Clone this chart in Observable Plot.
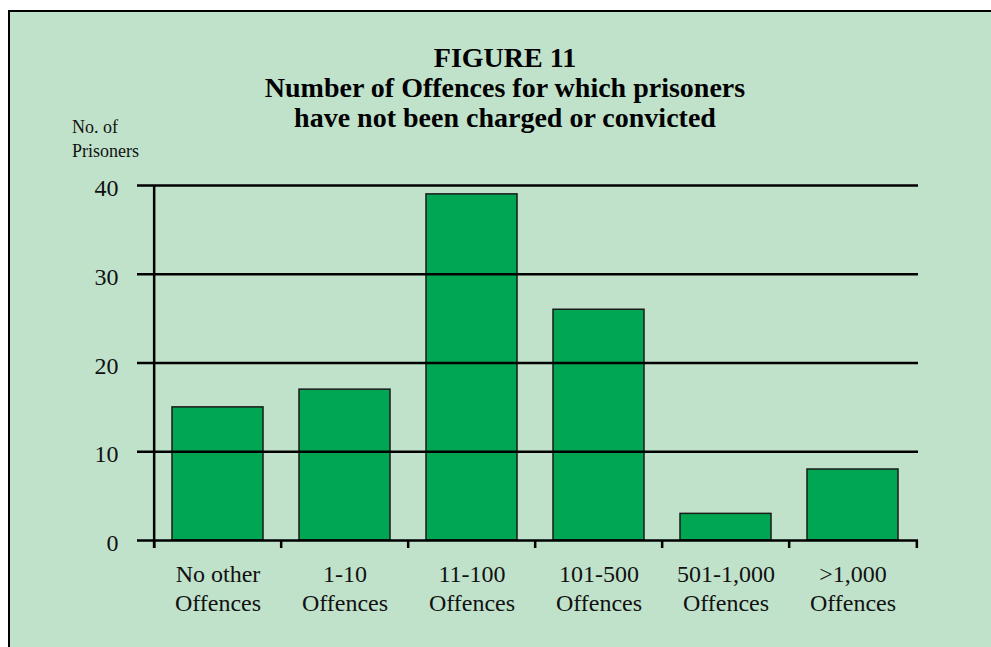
<!DOCTYPE html>
<html>
<head>
<meta charset="utf-8">
<script src="https://cdn.jsdelivr.net/npm/d3@7"></script>
<script src="https://cdn.jsdelivr.net/npm/@observablehq/plot@0.6"></script>
<style>
  html, body { margin: 0; padding: 0; background: #ffffff; }
  #wrap { position: relative; width: 991px; height: 647px; overflow: hidden; background: #ffffff; font-family: "Liberation Serif", serif; }
  #panel { position: absolute; left: 8px; top: 10px; width: 1000px; height: 700px; background: #c0e2cb; border-top: 2px solid #000; border-left: 2px solid #000; }
  #title { position: absolute; left: 255px; width: 500px; top: 43px; text-align: center; font-weight: bold; font-size: 28px; line-height: 30px; color: #000; }
  #ylab { position: absolute; left: 72px; top: 115px; font-size: 18px; line-height: 24px; color: #111; }
  #chart { position: absolute; left: 0; top: 0; }
  #chart svg text { font-family: "Liberation Serif", serif; }
</style>
</head>
<body>
<div id="wrap">
  <div id="panel"></div>
  <div id="title">FIGURE 11<br>Number of Offences for which prisoners<br>have not been charged or convicted</div>
  <div id="ylab">No. of<br>Prisoners</div>
  <div id="chart"></div>
</div>
<script>
const categories = ["No other\nOffences", "1-10\nOffences", "11-100\nOffences", "101-500\nOffences", "501-1,000\nOffences", ">1,000\nOffences"];
const prisoners = [15, 17, 39, 26, 3, 8];
const yTicks = [0, 10, 20, 30, 40];

const data = categories.map((c, i) => ({category: c, value: prisoners[i]}));

const W = 991, H = 647;
const mLeft = 152, mRight = 73, mTop = 185, mBottom = 107;
const step = (W - mLeft - mRight) / categories.length;
const serif = "'Liberation Serif', serif";

const plot = Plot.plot({
  width: W,
  height: H,
  marginLeft: mLeft,
  marginRight: mRight,
  marginTop: mTop,
  marginBottom: mBottom,
  style: {background: "transparent", fontFamily: serif, color: "#000"},
  x: {domain: categories, paddingInner: 0.28, paddingOuter: 0.14, axis: null},
  y: {domain: [0, 40], axis: null},
  marks: [
    Plot.barY(data, {x: "category", y: "value", fill: "#00a651", stroke: "#1a1a1a", strokeWidth: 1.5}),
    Plot.ruleY(yTicks, {stroke: "#000", strokeWidth: 2.5, insetLeft: -15}),
    Plot.ruleX([categories[0]], {x: d => d, dx: -step / 2, y1: 40, y2: 0, insetBottom: -8, stroke: "#000", strokeWidth: 2.5}),
    Plot.ruleX(categories, {x: d => d, dx: -step / 2, y1: 0, y2: 0, insetBottom: -8, stroke: "#000", strokeWidth: 2.5}),
    Plot.ruleX([categories[categories.length - 1]], {x: d => d, dx: step / 2, y1: 0, y2: 0, insetBottom: -8, stroke: "#000", strokeWidth: 2.5}),
    Plot.text(yTicks, {y: d => d, text: d => String(d), frameAnchor: "left", dx: -34, dy: 3, textAnchor: "end", fontSize: 24, fontFamily: serif, fill: "#111"}),
    Plot.text(categories, {x: d => d, text: d => d, frameAnchor: "bottom", dy: 21, lineAnchor: "top", lineHeight: 1.2, fontSize: 24, fontFamily: serif, fill: "#111"})
  ]
});
document.getElementById("chart").appendChild(plot);
</script>
</body>
</html>
